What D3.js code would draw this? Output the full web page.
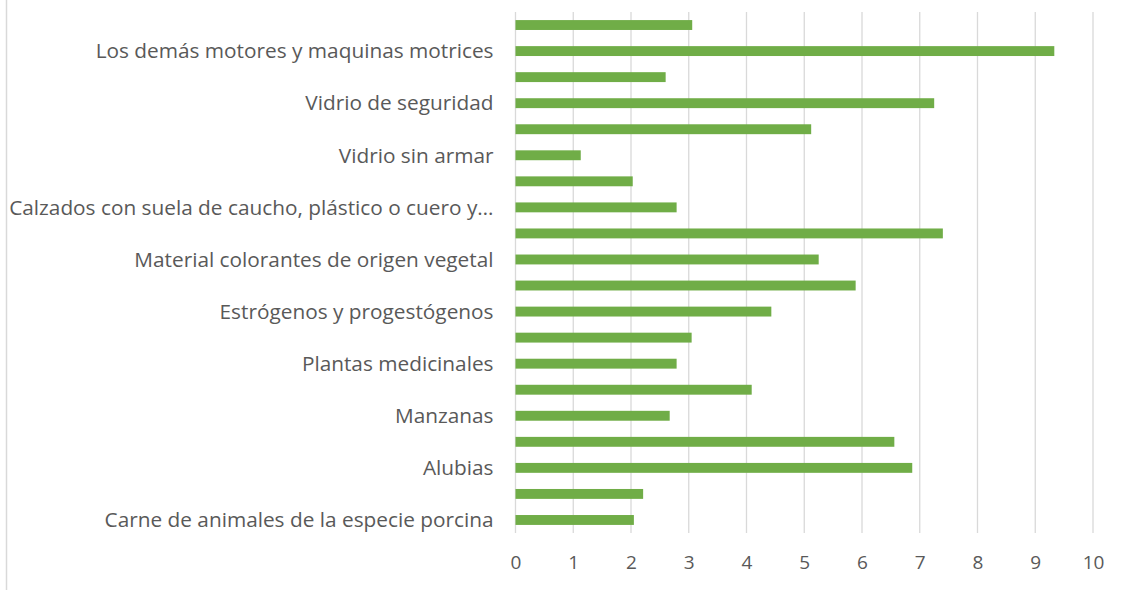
<!DOCTYPE html>
<html>
<head>
<meta charset="utf-8">
<script src="https://cdn.jsdelivr.net/npm/d3@7"></script>
<style>
  body { margin: 0; background: #fff; }
  text { font-family: "Open Sans", Lato, sans-serif; fill: #595959; }
</style>
</head>
<body>
<svg width="1128" height="590"></svg>
<script>
// Categories bottom to top; Excel only shows every other label, the hidden ones are unknown.
var categories = [
  "Carne de animales de la especie porcina", "",
  "Alubias", "",
  "Manzanas", "",
  "Plantas medicinales", "",
  "Estrógenos y progestógenos", "",
  "Material colorantes de origen vegetal", "",
  "Calzados con suela de caucho, plástico o cuero y…", "",
  "Vidrio sin armar", "",
  "Vidrio de seguridad", "",
  "Los demás motores y maquinas motrices", ""
];
var values = [2.05, 2.21, 6.87, 6.56, 2.67, 4.09, 2.79, 3.05, 4.43, 5.89,
              5.25, 7.40, 2.79, 2.03, 1.13, 5.12, 7.25, 2.60, 9.33, 3.06];
var ticks = [0, 1, 2, 3, 4, 5, 6, 7, 8, 9, 10];

var svg = d3.select("svg"),
    width = +svg.attr("width"),
    height = +svg.attr("height");

var margin = {top: 12, right: 35, bottom: 57, left: 515.5};

// chart area border (only the left edge shows in the picture)
svg.append("line")
    .attr("x1", 6.5).attr("x2", 6.5)
    .attr("y1", 0).attr("y2", height)
    .attr("stroke", "#d9d9d9")
    .attr("stroke-width", 1.5);

var x = d3.scaleLinear()
    .domain([0, 10])
    .range([margin.left, width - margin.right]);

var y = d3.scaleBand()
    .domain(d3.range(values.length))
    .range([height - margin.bottom, margin.top])
    .paddingInner(0.62)
    .paddingOuter(0.31);

// vertical gridlines
svg.append("g")
    .selectAll("line")
    .data(ticks)
    .enter().append("line")
    .attr("x1", function(d) { return x(d); })
    .attr("x2", function(d) { return x(d); })
    .attr("y1", margin.top)
    .attr("y2", height - margin.bottom)
    .attr("stroke", "#d9d9d9")
    .attr("stroke-width", 1.3);

// bars
svg.append("g")
    .selectAll("rect")
    .data(values)
    .enter().append("rect")
    .attr("x", x(0))
    .attr("y", function(d, i) { return y(i); })
    .attr("width", function(d) { return x(d) - x(0); })
    .attr("height", y.bandwidth())
    .attr("fill", "#70ad47");

// x axis tick labels
var xAxis = svg.append("g")
    .attr("transform", "translate(0," + (height - margin.bottom) + ")")
    .call(d3.axisBottom(x).tickValues(ticks).tickSize(0).tickPadding(23));
xAxis.select(".domain").remove();
xAxis.selectAll("text")
    .style("font-family", "'Open Sans', Lato, sans-serif")
    .style("font-size", "19px")
    .attr("fill", "#595959");

// category labels, every other one
svg.append("g")
    .selectAll("text")
    .data(categories)
    .enter().append("text")
    .attr("x", margin.left - 22)
    .attr("y", function(d, i) { return y(i) + y.bandwidth() / 2; })
    .attr("dy", "0.35em")
    .attr("text-anchor", "end")
    .style("font-size", "20.8px")
    .text(function(d) { return d; });
</script>
</body>
</html>
